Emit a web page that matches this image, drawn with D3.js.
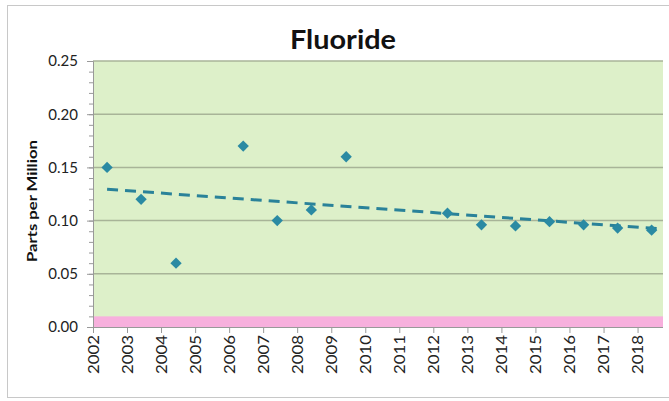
<!DOCTYPE html>
<html lang="en">
<head>
    <meta charset="UTF-8">
    <title>Fluoride</title>
    <script src="https://cdn.jsdelivr.net/npm/d3@7"></script>
    <style>
        body { margin: 0; background: #fff; }
        text { font-family: Lato, "Open Sans", sans-serif; }
    </style>
</head>
<body>
<script>
// sample dates and fluoride readings (ppm)
var sampleDates = ["2002-06-01", "2003-06-01", "2004-06-10", "2006-06-01", "2007-06-01",
    "2008-06-01", "2009-06-10", "2012-06-01", "2013-06-01", "2014-06-01",
    "2015-06-01", "2016-06-01", "2017-06-01", "2018-06-01"];
var fluoride = [0.15, 0.12, 0.06, 0.17, 0.10, 0.11, 0.16, 0.107, 0.096, 0.095,
    0.099, 0.096, 0.093, 0.091];
var yearTicks = d3.range(2002, 2019);
var yTicks = [0, 0.05, 0.10, 0.15, 0.20, 0.25];
var limitBand = [0, 0.01];

var w = 669, h = 401;
var pLeft = 93, pRight = 663, pTop = 61, pBottom = 327;

var parse = d3.timeParse("%Y-%m-%d");
var data = sampleDates.map(function(d, i) {
    return { date: parse(d), value: fluoride[i] };
});

var xScale = d3.scaleTime()
    .domain([new Date(2002, 0, 1), new Date(2018, 9, 1)])
    .range([pLeft, pRight]);
var yScale = d3.scaleLinear()
    .domain([0, 0.25])
    .range([pBottom, pTop]);

var svg = d3.select("body").append("svg")
    .attr("width", w)
    .attr("height", h);

// outer frame
svg.append("rect")
    .attr("x", 7.5).attr("y", 5.5)
    .attr("width", 668).attr("height", 392)
    .attr("fill", "#fff")
    .attr("stroke", "#c8c8c8");

// plot background
svg.append("rect")
    .attr("x", pLeft).attr("y", pTop)
    .attr("width", pRight - pLeft).attr("height", pBottom - pTop)
    .attr("fill", "#ddf0c9");

// pink band
svg.append("rect")
    .attr("x", pLeft)
    .attr("y", yScale(limitBand[1]))
    .attr("width", pRight - pLeft)
    .attr("height", yScale(limitBand[0]) - yScale(limitBand[1]))
    .attr("fill", "#f7b0dd");

// gridlines
svg.selectAll(".grid")
    .data(yTicks.slice(1))
    .enter().append("line")
    .attr("x1", pLeft).attr("x2", pRight)
    .attr("y1", function(d) { return yScale(d); })
    .attr("y2", function(d) { return yScale(d); })
    .attr("stroke", "#a8b498")
    .attr("stroke-width", 1.5);

// y axis with minor ticks
var yMinor = svg.append("g")
    .attr("transform", "translate(" + pLeft + ",0)")
    .call(d3.axisLeft(yScale).tickValues(d3.range(0, 0.2501, 0.01)).tickSize(4).tickFormat(""));
yMinor.select(".domain").remove();
yMinor.selectAll("line").attr("stroke", "#999");

var yAxis = svg.append("g")
    .attr("transform", "translate(" + pLeft + ",0)")
    .call(d3.axisLeft(yScale).tickValues(yTicks).tickSize(6).tickPadding(9)
        .tickFormat(d3.format(".2f")));
yAxis.select(".domain").attr("stroke", "#999");
yAxis.selectAll("line").attr("stroke", "#999");
yAxis.selectAll("text")
    .attr("font-size", "15px")
    .attr("fill", "#222");

// x axis
var xAxis = svg.append("g")
    .attr("transform", "translate(0," + pBottom + ")")
    .call(d3.axisBottom(xScale)
        .tickValues(yearTicks.map(function(y) { return new Date(y, 0, 1); }))
        .tickSize(6)
        .tickFormat(d3.timeFormat("%Y")));
xAxis.select(".domain").attr("stroke", "#999").attr("d", "M" + pLeft + ",0.5H" + pRight);
xAxis.selectAll("line").attr("stroke", "#999");
xAxis.selectAll("text")
    .attr("font-size", "15px")
    .attr("fill", "#222")
    .attr("text-anchor", "end")
    .attr("transform", "rotate(-90)")
    .attr("x", -8)
    .attr("y", 0)
    .attr("dy", "0.35em")
    .attr("textLength", 39)
    .attr("lengthAdjust", "spacingAndGlyphs");

// linear trend line (least squares)
var t = data.map(function(d) { return d.date.getTime(); });
var tm = d3.mean(t), vm = d3.mean(fluoride);
var sxy = d3.sum(t, function(ti, i) { return (ti - tm) * (fluoride[i] - vm); });
var sxx = d3.sum(t, function(ti) { return (ti - tm) * (ti - tm); });
var slope = sxy / sxx;
function trend(ti) { return vm + slope * (ti - tm); }
var tEnd = xScale.domain()[1].getTime();

svg.append("line")
    .attr("x1", xScale(data[0].date))
    .attr("y1", yScale(trend(t[0])))
    .attr("x2", xScale(tEnd))
    .attr("y2", yScale(trend(tEnd)))
    .attr("stroke", "#2a8299")
    .attr("stroke-width", 3)
    .attr("stroke-dasharray", "11,7");

// markers
svg.selectAll(".pt")
    .data(data)
    .enter().append("path")
    .attr("d", d3.symbol().type(d3.symbolSquare).size(64))
    .attr("transform", function(d) {
        return "translate(" + xScale(d.date) + "," + yScale(d.value) + ") rotate(45)";
    })
    .attr("fill", "#2a8aa3");

// title
svg.append("text")
    .attr("x", 343)
    .attr("y", 49)
    .attr("text-anchor", "middle")
    .attr("font-size", "27px")
    .attr("font-weight", "bold")
    .attr("fill", "#111")
    .attr("textLength", 106)
    .attr("lengthAdjust", "spacingAndGlyphs")
    .text("Fluoride");

// y title
svg.append("text")
    .attr("transform", "translate(37,201) rotate(-90)")
    .attr("text-anchor", "middle")
    .attr("font-size", "14px")
    .attr("font-weight", "bold")
    .attr("fill", "#111")
    .attr("textLength", 122)
    .attr("lengthAdjust", "spacingAndGlyphs")
    .text("Parts per Million");
</script>
</body>
</html>
